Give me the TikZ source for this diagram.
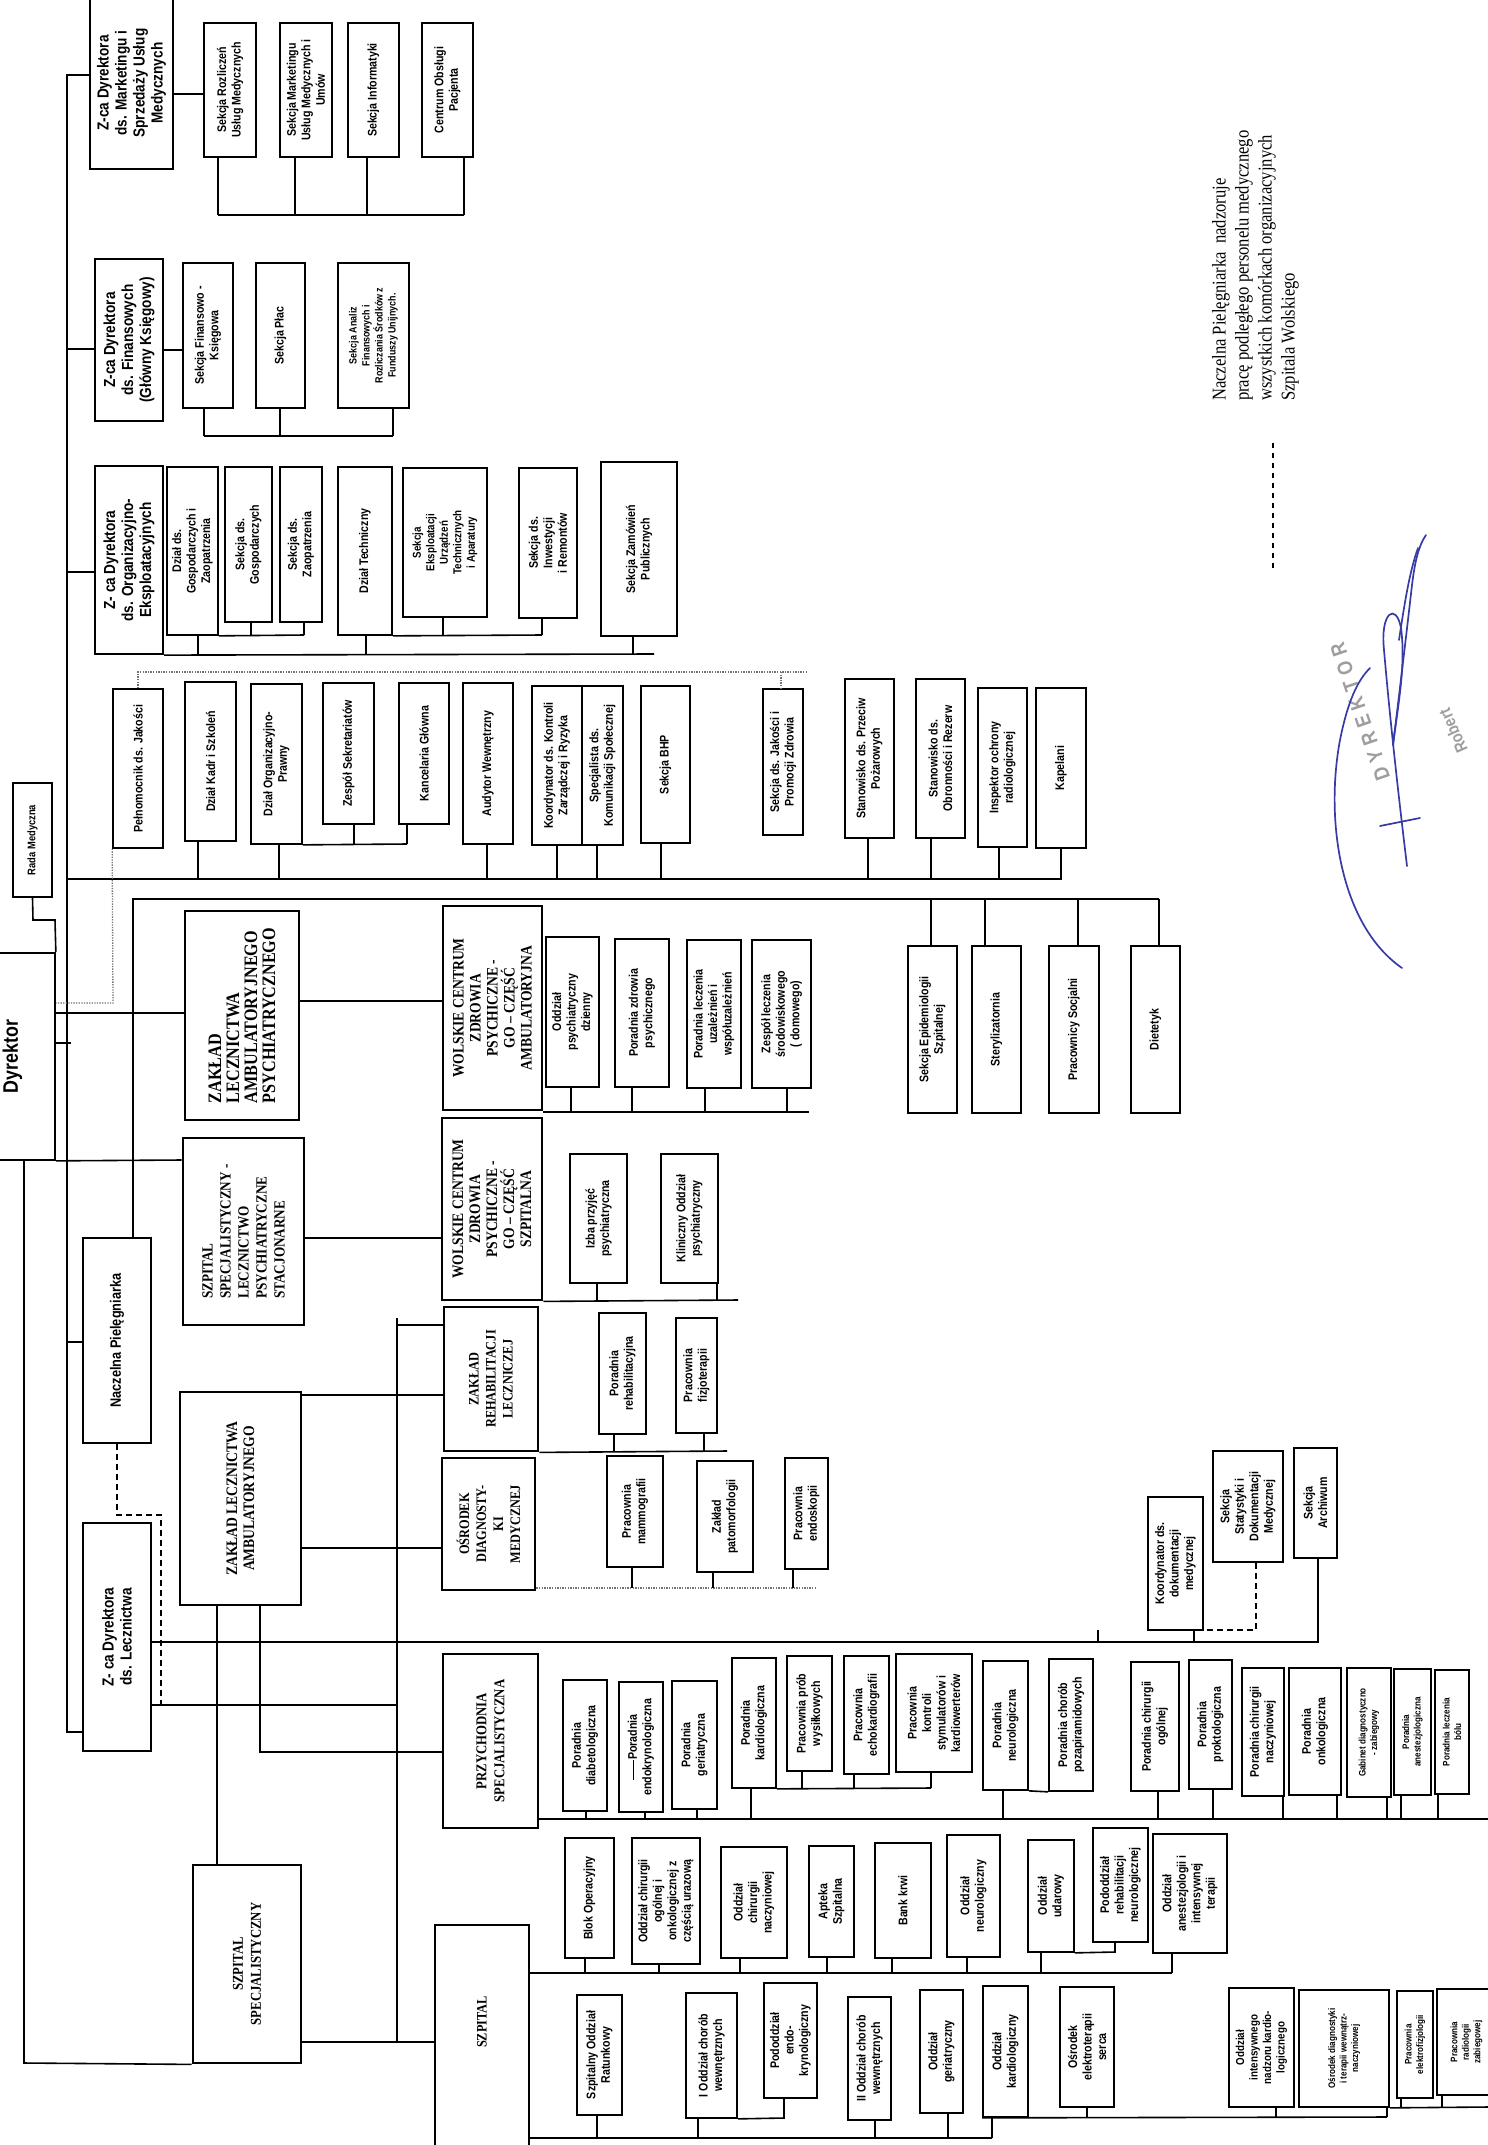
\documentclass[tikz,border=0pt]{standalone}
\usepackage{fontspec}
\setmainfont{Liberation Serif}[FakeStretch=0.85]
\setsansfont{Liberation Sans}[FakeStretch=0.85]
\newcommand\fz[2]{\fontsize{#1}{#2}\selectfont}
\definecolor{sigblue}{RGB}{55,60,165}
\tikzset{
 bsec/.style={draw, line width=1.7pt, rotate=90, inner sep=1pt, align=center, font={\sffamily\bfseries\fz{12.5}{14.5}}},
 bzca/.style={bsec, line width=2.2pt, font={\sffamily\bfseries\fz{16}{18}}},
 bunit/.style={bsec, line width=2.8pt, font={\rmfamily\bfseries\fz{15}{17.5}}},
 bsmall/.style={bsec, font={\sffamily\bfseries\fz{9.5}{11.5}}},
 ln/.style={line width=1.6pt},
 dotln/.style={line width=1.3pt, black!55, dash pattern=on 1.3pt off 1.3pt},
 dashln/.style={line width=1.5pt, dash pattern=on 6pt off 4pt},
 sig/.style={line width=1.7pt, sigblue, line cap=round},
}
% box: [style]{name}{x1}{y1}{x2}{y2}{text}
\newcommand\bx[7][bsec]{\node[#1,minimum width={((#6)-(#4))*1pt},minimum height={((#5)-(#3))*1pt}] (#2) at ({((#3)+(#5))/2},{((#4)+(#6))/2}) {#7};}
\newcommand\drop[3]{\draw[ln] (#1.west -| #2,0) -- (#2,#3);}
\newcommand\rise[3]{\draw[ln] (#1.east -| #2,0) -- (#2,#3);}
\begin{document}
\begin{tikzpicture}[x=1pt,y=-1pt]
\useasboundingbox (0,0) rectangle (1488,2145);
\fill[white] (0,0) rectangle (1488,2145);
% ---------- top: deputies ----------
\bx[bzca]{mk}{90}{-3}{173}{169}{Z-ca Dyrektora\\ds. Marketingu i\\Sprzedaży Usług\\Medycznych}
\bx{mk1}{204}{23}{256}{157}{Sekcja Rozliczeń\\Usług Medycznych}
\bx{mk2}{280}{23}{332}{157}{Sekcja Marketingu\\Usług Medycznych i\\Umów}
\bx{mk3}{348}{23}{399}{157}{Sekcja Informatyki}
\bx{mk4}{422}{23}{473}{157}{Centrum Obsługi\\Pacjenta}
\bx[bzca]{fin}{95}{259}{163}{421}{Z-ca Dyrektora\\ds. Finansowych\\(Główny Księgowy)}
\bx{fin1}{183}{263}{233}{408}{Sekcja Finansowo -\\Księgowa}
\bx{fin2}{256}{263}{305}{408}{Sekcja Płac}
\bx[bsec,font={\sffamily\bfseries\fz{10.5}{13}}]{fin3}{338}{263}{409}{408}{Sekcja Analiz\\Finansowych i\\Rozliczania Środków z\\Funduszy Unijnych.}
\bx[bzca]{org}{95}{466}{163}{654}{Z- ca Dyrektora\\ds. Organizacyjno-\\Eksploatacyjnych}
\bx{org1}{167}{467}{218}{635}{Dział ds.\\Gospodarczych i\\Zaopatrzenia}
\bx{org2}{225}{467}{272}{622}{Sekcja ds.\\Gospodarczych}
\bx{org3}{280}{467}{322}{622}{Sekcja ds.\\Zaopatrzenia}
\bx{org4}{338}{467}{392}{635}{Dział Techniczny}
\bx[bsec,font={\sffamily\bfseries\fz{11.5}{13.5}}]{org5}{403}{468}{487}{617}{Sekcja\\Eksploatacji\\Urządzeń\\Technicznych\\i Aparatury}
\bx{org6}{519}{468}{577}{618}{Sekcja ds.\\Inwestycji\\i Remontów}
\bx{org7}{601}{462}{677}{636}{Sekcja Zamówień\\Publicznych}
% ---------- staff ----------
\bx{peln}{113}{689}{163}{848}{Pełnomocnik ds. Jakości}
\bx{kadr}{185}{682}{236}{841}{Dział Kadr i Szkoleń}
\bx{orgpr}{251}{684}{302}{844}{Dział Organizacyjno-\\Prawny}
\bx{sekr}{323}{683}{374}{824}{Zespół Sekretariatów}
\bx{kanc}{399}{683}{449}{824}{Kancelaria Główna}
\bx{aud}{463}{683}{513}{844}{Audytor Wewnętrzny}
\bx{koord}{532}{686}{582}{845}{Koordynator ds. Kontroli\\Zarządczej i Ryzyka}
\bx{spec}{582}{686}{623}{845}{Specjalista ds.\\Komunikacji Społecznej}
\bx{bhp}{641}{686}{690}{843}{Sekcja BHP}
\bx{jak}{763}{689}{803}{835}{Sekcja ds. Jakości i\\Promocji Zdrowia}
\bx{poz}{845}{679}{894}{838}{Stanowisko ds. Przeciw\\Pożarowych}
\bx{obr}{916}{679}{965}{838}{Stanowisko ds.\\Obronności i Rezerw}
\bx{insp}{978}{688}{1027}{847}{Inspektor ochrony\\radiologicznej}
\bx{kap}{1036}{688}{1086}{848}{Kapelani}
% ---------- support ----------
\bx{epi}{908}{946}{957}{1113}{Sekcja Epidemiologii\\Szpitalnej}
\bx{ster}{972}{946}{1021}{1113}{Sterylizatornia}
\bx{socj}{1049}{946}{1099}{1113}{Pracownicy Socjalni}
\bx{diet}{1131}{946}{1180}{1113}{Dietetyk}
% ---------- director etc ----------
\bx[bsec,font={\sffamily\bfseries\fz{21}{24}}]{dyr}{-30}{953}{55}{1160}{Dyrektor}
\bx[bsec,font={\sffamily\bfseries\fz{11}{13}}]{rada}{13}{783}{52}{897}{Rada Medyczna}
\bx[bsec,font={\sffamily\bfseries\fz{15}{17}}]{nacz}{83}{1238}{151}{1443}{Naczelna Pielęgniarka}
\bx[bzca]{zcl}{83}{1523}{151}{1751}{Z- ca Dyrektora\\ds. Lecznictwa}
% ---------- units ----------
\bx[bunit,align=left,font={\rmfamily\bfseries\fz{19}{18}}]{zlap}{185}{911}{299}{1120}{ZAKŁAD\\LECZNICTWA\\AMBULATORYJNEGO\\PSYCHIATRYCZNEGO}
\bx[bunit,align=left,font={\rmfamily\bfseries\fz{15.5}{18}}]{sslp}{183}{1138}{304}{1325}{SZPITAL\\SPECJALISTYCZNY -\\LECZNICTWO\\PSYCHIATRYCZNE\\STACJONARNE}
\bx[bunit,font={\rmfamily\bfseries\fz{16}{17}}]{zla}{180}{1392}{301}{1605}{ZAKŁAD LECZNICTWA\\AMBULATORYJNEGO}
\bx[bunit,font={\rmfamily\bfseries\fz{15}{18}}]{ss}{193}{1865}{301}{2063}{SZPITAL\\SPECJALISTYCZNY}
\bx[bunit,font={\rmfamily\bfseries\fz{16}{17}}]{wcza}{443}{906}{542}{1110}{WOLSKIE CENTRUM\\ZDROWIA\\PSYCHICZNE -\\GO – CZĘŚĆ\\AMBULATORYJNA}
\bx[bunit,font={\rmfamily\bfseries\fz{16}{17}}]{wczs}{442}{1118}{542}{1300}{WOLSKIE CENTRUM\\ZDROWIA\\PSYCHICZNE -\\GO – CZĘŚĆ\\SZPITALNA}
\bx[bunit,font={\rmfamily\bfseries\fz{14.5}{17}}]{zrl}{444}{1307}{538}{1451}{ZAKŁAD\\REHABILITACJI\\LECZNICZEJ}
\bx[bunit,font={\rmfamily\bfseries\fz{14.5}{17}}]{odm}{442}{1458}{535}{1590}{OŚRODEK\\DIAGNOSTY-\\KI\\MEDYCZNEJ}
\bx[bunit,font={\rmfamily\bfseries\fz{15}{18}}]{prz}{443}{1654}{538}{1828}{PRZYCHODNIA\\SPECJALISTYCZNA}
\bx[bunit,font={\rmfamily\bfseries\fz{14.5}{17}}]{szp}{435}{1925}{529}{2165}{\hspace*{46pt}SZPITAL}
% ---------- unit children ----------
\bx{a1}{546}{937}{599}{1087}{Oddział\\psychiatryczny\\dzienny}
\bx{a2}{615}{939}{669}{1087}{Poradnia zdrowia\\psychicznego}
\bx{a3}{687}{940}{741}{1088}{Poradnia leczenia\\uzależnień i\\współuzależnień}
\bx{a4}{752}{940}{811}{1088}{Zespół leczenia\\środowiskowego\\( domowego)}
\bx{s1}{570}{1154}{627}{1283}{Izba przyjęć\\psychiatryczna}
\bx{s2}{661}{1154}{718}{1283}{Kliniczny Oddział\\psychiatryczny}
\bx{r1}{599}{1313}{646}{1434}{Poradnia\\rehabilitacyjna}
\bx{r2}{676}{1318}{717}{1433}{Pracownia\\fizjoterapii}
\bx{d1}{607}{1456}{663}{1567}{Pracownia\\mammografii}
\bx{d2}{697}{1461}{753}{1572}{Zakład\\patomorfologii}
\bx{d3}{785}{1458}{828}{1569}{Pracownia\\endoskopii}
\bx{kdm}{1148}{1497}{1203}{1630}{Koordynator ds.\\dokumentacji\\medycznej}
\bx{stat}{1213}{1451}{1283}{1562}{Sekcja\\Statystyki i\\Dokumentacji\\Medycznej}
\bx{arch}{1294}{1448}{1337}{1558}{Sekcja\\Archiwum}
% przychodnia
\bx{p1}{563}{1680}{607}{1811}{Poradnia\\diabetologiczna}
\bx{p2}{619}{1682}{663}{1812}{\rule[0.45ex]{20pt}{0.8pt}Poradnia\\endokrynologiczna}
\bx{p3}{672}{1681}{717}{1809}{Poradnia\\geriatryczna}
\bx{p4}{732}{1658}{776}{1788}{Poradnia\\kardiologiczna}
\bx{p5}{787}{1656}{832}{1771}{Pracownia prób\\wysiłkowych}
\bx{p6}{844}{1656}{889}{1774}{Pracownia\\echokardiografii}
\bx{p7}{896}{1654}{972}{1772}{Pracownia\\kontroli\\stymulatorów i\\kardiowerterów}
\bx{p8}{983}{1661}{1028}{1790}{Poradnia\\neurologiczna}
\bx{p9}{1049}{1659}{1093}{1791}{Poradnia chorób\\pozapiramidowych}
\bx{p10}{1131}{1662}{1179}{1791}{Poradnia chirurgii\\ogólnej}
\bx{p11}{1189}{1660}{1232}{1789}{Poradnia\\proktologiczna}
\bx{p12}{1242}{1668}{1284}{1796}{Poradnia chirurgii\\naczyniowej}
\bx{p13}{1289}{1668}{1341}{1795}{Poradnia\\onkologiczna}
\bx[bsmall]{p14}{1347}{1668}{1391}{1797}{Gabinet diagnostyczno\\- zabiegowy}
\bx[bsmall]{p15}{1394}{1669}{1431}{1795}{Poradnia\\anestezjologiczna}
\bx[bsmall]{p16}{1435}{1670}{1469}{1794}{Poradnia leczenia\\bólu}
% szpital upper
\bx{h1}{565}{1838}{614}{1958}{Blok Operacyjny}
\bx{h2}{632}{1838}{700}{1964}{Oddział chirurgii\\ogólnej i\\onkologicznej z\\częścią urazową}
\bx{h3}{721}{1847}{787}{1958}{Oddział\\chirurgii\\naczyniowej}
\bx{h4}{809}{1846}{854}{1957}{Apteka\\Szpitalna}
\bx{h5}{875}{1843}{931}{1958}{Bank krwi}
\bx{h6}{947}{1835}{1000}{1957}{Oddział\\neurologiczny}
\bx{h7}{1028}{1840}{1074}{1952}{Oddział\\udarowy}
\bx{h8}{1093}{1828}{1148}{1942}{Pododdział\\rehabilitacji\\neurologicznej}
\bx{h9}{1153}{1834}{1227}{1953}{Oddział\\anestezjologii i\\intensywnej\\terapii}
% szpital lower
\bx{l1}{577}{1995}{622}{2115}{Szpitalny Oddział\\Ratunkowy}
\bx{l2}{686}{1993}{737}{2118}{I Oddział chorób\\wewnętrznych}
\bx{l3}{764}{1983}{817}{2098}{Pododdział\\endo-\\krynologiczny}
\bx{l4}{848}{1997}{891}{2120}{II Oddział chorób\\wewnętrznych}
\bx{l5}{920}{1990}{963}{2113}{Oddział\\geriatryczny}
\bx{l6}{983}{1986}{1028}{2117}{Oddział\\kardiologiczny}
\bx{l7}{1060}{1987}{1114}{2107}{Ośrodek\\elektroterapii\\serca}
\bx[bsec,font={\sffamily\bfseries\fz{11.5}{13.5}}]{l8}{1229}{1988}{1294}{2107}{Oddział\\intensywnego\\nadzoru kardio-\\logicznego}
\bx[bsmall]{l9}{1299}{1990}{1389}{2107}{Ośrodek diagnostyki\\i terapii wewnątrz-\\naczyniowej}
\bx[bsmall]{l10}{1397}{1991}{1433}{2098}{Pracownia\\elektrofizjologii}
\bx[bsmall]{l11}{1437}{1989}{1496}{2095}{Pracownia\\radiologii\\zabiegowej}
% ---------- connectors ----------
% trunk
\draw[ln] (mk.north |- 0,75) -- (67,75) -- (67,1732) -- (zcl.north |- 0,1732);
\draw[ln] (67,349) -- (fin.north |- 0,349);
\draw[ln] (67,572) -- (org.north |- 0,572);
\draw[ln] (67,1342) -- (nacz.north |- 0,1342);
% marketing
\draw[ln] (mk.south |- 0,94) -- (mk1.north |- 0,94);
\draw[ln] (218,215) -- (464,215);
\drop{mk1}{218}{215}\drop{mk2}{295}{215}\drop{mk3}{367}{215}\drop{mk4}{464}{215}
% finance
\draw[ln] (fin.south |- 0,350) -- (fin1.north |- 0,350);
\draw[ln] (204,436) -- (393,436);
\drop{fin1}{204}{436}\drop{fin2}{280}{436}\drop{fin3}{393}{436}
% organisation
\draw[ln] (org.south west) -- (654,654);
\drop{org1}{198}{654}\drop{org4}{366}{654}\drop{org7}{633}{654}
\draw[ln] (org1.south west) -- (304,635);
\drop{org2}{251}{635}\drop{org3}{304}{635}
\draw[ln] (org4.south west) -- (542,635);
\drop{org5}{443}{635}\drop{org6}{542}{635}
% staff
\draw[ln] (67,879) -- (1062,879);
\drop{kadr}{198}{879}\drop{orgpr}{279}{879}\drop{aud}{487}{879}\drop{koord}{557}{879}
\drop{spec}{597}{879}\drop{bhp}{661}{879}\drop{poz}{868}{879}\drop{obr}{931}{879}
\drop{insp}{999}{879}\drop{kap}{1061}{879}
\draw[ln] (orgpr.south west) -- (407,844);
\drop{sekr}{354}{844}\drop{kanc}{407}{844}
\draw[dotln] (peln.east -| 138,0) -- (138,672) -- (807,672);
\draw[dotln] (781,672) -- (jak.east -| 781,0);
\draw[dotln] (peln.north west) -- (113,1003) -- (dyr.south |- 0,1003);
% director
\draw[ln] (rada.west) -- (33,920) -- (55,920) -- (dyr.south east);
\draw[ln] (dyr.south |- 0,1043) -- (71,1043);
\draw[ln] (dyr.south |- 0,1013) -- (zlap.north |- 0,1013);
\draw[ln] (dyr.south west) -- (sslp.north |- 0,1160);
\draw[ln] (dyr.west -| 24,0) -- (24,2063) -- (ss.north west);
\draw[ln] (zlap.south |- 0,1001) -- (wcza.north |- 0,1001);
\draw[ln] (sslp.south |- 0,1238) -- (wczs.north |- 0,1238);
% nursing / support line
\draw[ln] (nacz.east -| 133,0) -- (133,899) -- (1159,899);
\rise{epi}{931}{899}\rise{ster}{985}{899}\rise{socj}{1078}{899}\rise{diet}{1159}{899}
\draw[dashln] (nacz.west -| 117,0) -- (117,1515) -- (161,1515) -- (161,1705);
% medical deputy
\draw[ln] (zcl.south |- 0,1642) -- (1318,1642) -- (arch.west -| 1318,0);
\draw[ln] (kdm.west -| 1194,0) -- (1194,1642);
\draw[ln] (1098,1630) -- (1098,1642);
\draw[dashln] (stat.west -| 1256,0) -- (1256,1630) -- (kdm.south |- 0,1630);
\draw[ln] (zcl.south |- 0,1705) -- (397,1705);
\draw[ln] (397,1318) -- (397,2042);
\draw[ln] (397,1325) -- (zrl.north |- 0,1325);
\draw[ln] (zla.south |- 0,1395) -- (zrl.north |- 0,1395);
\draw[ln] (zla.south |- 0,1548) -- (odm.north |- 0,1548);
\draw[ln] (zla.west -| 217,0) -- (ss.east -| 217,0);
\draw[ln] (zla.west -| 260,0) -- (260,1752) -- (prz.north |- 0,1752);
\draw[ln] (ss.south |- 0,2042) -- (szp.north |- 0,2042);
% unit children
\draw[ln] (wcza.south |- 0,1112) -- (809,1112);
\drop{a1}{571}{1112}\drop{a2}{632}{1112}\drop{a3}{705}{1112}\drop{a4}{787}{1112}
\draw[ln] (wczs.south west) -- (738,1300);
\drop{s1}{597}{1300}\drop{s2}{717}{1300}
\draw[ln] (zrl.south west) -- (727,1451);
\drop{r1}{614}{1451}\drop{r2}{704}{1451}
\draw[dotln] (odm.south |- 0,1588) -- (817,1588);
\drop{d1}{632}{1588}\drop{d2}{713}{1588}\drop{d3}{793}{1588}
% przychodnia
\draw[ln] (prz.south |- 0,1819) -- (1488,1819);
\drop{p1}{586}{1819}\drop{p2}{645}{1819}\drop{p3}{697}{1819}\drop{p4}{751}{1819}
\draw[ln] (p4.south west) -- (931,1788);
\drop{p5}{802}{1788}\drop{p6}{854}{1788}\drop{p7}{931}{1788}
\draw[ln] (p8.south west) -- (p9.north west);
\drop{p8}{1003}{1819}\drop{p10}{1158}{1819}\drop{p11}{1213}{1819}\drop{p12}{1283}{1819}
\drop{p13}{1337}{1819}\drop{p14}{1387}{1819}\drop{p15}{1401}{1819}\drop{p16}{1438}{1819}
% szpital upper
\draw[ln] (szp.south |- 0,1973) -- (1172,1973);
\drop{h1}{585}{1973}\drop{h2}{659}{1973}\drop{h3}{740}{1973}\drop{h4}{827}{1973}
\drop{h5}{892}{1973}\drop{h6}{967}{1973}\drop{h7}{1041}{1973}\drop{h9}{1172}{1973}
\draw[ln] (h8.west -| 1115,0) -- (1115,1952) -- (h7.south west);
% szpital lower
\draw[ln] (szp.south |- 0,2138) -- (992,2138);
\drop{l1}{597}{2138}\drop{l2}{698}{2138}\drop{l4}{875}{2138}\drop{l5}{948}{2138}\drop{l6}{992}{2138}
\draw[ln] (l3.west -| 784,0) -- (784,2118) -- (l2.south west);
\draw[ln] (l6.north west) -- (1387,2117);
\drop{l7}{1087}{2117}\drop{l8}{1276}{2117}\drop{l9}{1387}{2117}
\draw[ln] (l9.south west) -- (1488,2107);
\drop{l10}{1401}{2107}\drop{l11}{1442}{2107}
% ---------- note, dashed line, signature ----------
\node[rotate=90, anchor=north west, inner sep=0pt, align=left, font={\rmfamily\fz{19.5}{23}}] (note) at (1212,401) {Naczelna Pielęgniarka \ nadzoruje\\pracę podległego personelu medycznego\\wszystkich komórkach organizacyjnych\\Szpitala Wolskiego};
\coordinate (dA) at (1273,443);
\coordinate (dB) at (1273,568);
\draw[line width=1.3pt, dash pattern=on 5pt off 5pt] (dA) -- (dB);
\node[rotate=109, text=black!38, font={\sffamily\bfseries\fz{21}{22}\addfontfeatures{LetterSpace=30}}] (stamp1) at (1360,712) {DYREKTOR};
\node[rotate=114, text=black!38, font={\sffamily\bfseries\fz{17}{18}}] (stamp2) at (1453,731) {Robert};
\draw[sig] (1402,968) .. controls (1340,925) and (1325,820) .. (1340,740) .. controls (1348,700) and (1358,680) .. (1370,668);
\draw[sig] (1407,866) .. controls (1399,800) and (1390,720) .. (1384,650) .. controls (1380,612) and (1396,602) .. (1401,628) .. controls (1406,665) and (1398,705) .. (1393,745);
\draw[sig] (1393,745) .. controls (1401,680) and (1408,620) .. (1412,585) .. controls (1415,560) and (1419,545) .. (1426,535);
\draw[sig] (1380,826) -- (1420,818);
\draw[sig] (1399,640) .. controls (1405,600) and (1410,570) .. (1418,548);
\end{tikzpicture}
\end{document}
